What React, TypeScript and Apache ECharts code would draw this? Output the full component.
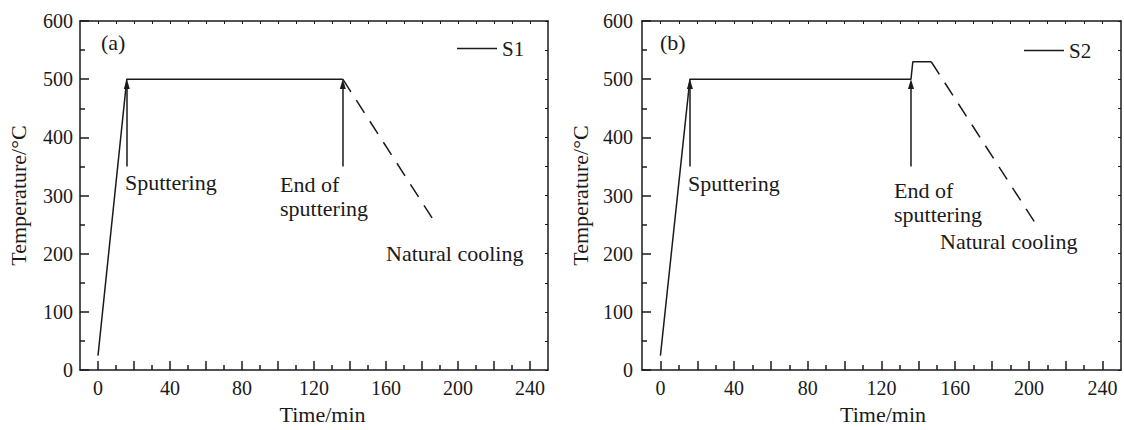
import React, { useEffect, useRef } from "react";
import * as echarts from "echarts";

// ---- data ----
const xLabelValues = [0, 40, 80, 120, 160, 200, 240];
const xMajorTicks = [0, 20, 40, 60, 80, 100, 120, 140, 160, 180, 200, 220, 240];
const xMinorTicks = [10, 30, 50, 70, 90, 110, 130, 150, 170, 190, 210, 230];
const xTopTicks = [0, 10, 20, 30, 40, 50, 60, 70, 80, 90, 100, 110, 120, 130, 140, 150, 160, 170, 180, 190, 200, 210, 220, 230, 240];

const heatS1 = [[0, 25], [16, 500], [136, 500]];
const coolS1 = [[136, 500], [188, 250]];
const arrowsS1 = [[16, 350, 500], [136, 350, 500]];

const heatS2 = [[0, 25], [16, 500], [136, 500], [137, 530], [147, 530]];
const coolS2 = [[147, 530], [204, 250]];
const arrowsS2 = [[16, 350, 500], [136, 350, 500]];

const FONT = "Liberation Serif";
const INK = "#1a1a1a";
const GRID_H = 360;
const ARROW_W = 6;
const ARROW_H = 10;

type Panel = {
  left: number;
  width: number;
  name: string;
  heat: number[][];
  cool: number[][];
  arrows: number[][];
  yLabelMargin: number;
  xNamePad: number;
  legendLeft: number;
  legendTop: number;
};

const panels: Panel[] = [
  { left: 80, width: 468, name: "S1", heat: heatS1, cool: coolS1, arrows: arrowsS1, yLabelMargin: 7, xNamePad: 17, legendLeft: 457, legendTop: 38 },
  { left: 642, width: 479, name: "S2", heat: heatS2, cool: coolS2, arrows: arrowsS2, yLabelMargin: 9, xNamePad: 3, legendLeft: 1024, legendTop: 40 },
];

function buildOption() {
  const grid: any[] = [];
  const xAxis: any[] = [];
  const yAxis: any[] = [];
  const series: any[] = [];
  const legend: any[] = [];
  const tipShift = ARROW_H / 2 / (GRID_H / 600);

  panels.forEach((p, i) => {
    grid.push({ left: p.left, top: 21, width: p.width, height: GRID_H, containLabel: false });
    const baseX = { type: "value", gridIndex: i, min: -10, max: 250, splitLine: { show: false } };
    const lineStyle = { color: INK, width: 1.5 };
    // bottom major with labels
    xAxis.push({
      ...baseX,
      position: "bottom",
      name: "Time/min",
      nameLocation: "middle",
      nameGap: 28,
      nameTextStyle: { fontFamily: FONT, fontSize: 22, color: INK, padding: [0, 0, 0, p.xNamePad] },
      axisLine: { show: true, onZero: false, lineStyle },
      axisTick: { show: true, inside: true, length: 9, lineStyle, customValues: xMajorTicks },
      axisLabel: { show: true, customValues: xLabelValues, margin: 8, fontFamily: FONT, fontSize: 20, color: INK },
    });
    // bottom minor ticks
    xAxis.push({
      ...baseX,
      position: "bottom",
      axisLine: { show: false },
      axisTick: { show: true, inside: true, length: 5, lineStyle, customValues: xMinorTicks },
      axisLabel: { show: false },
    });
    // top border
    xAxis.push({
      ...baseX,
      position: "top",
      axisLine: { show: true, onZero: false, lineStyle },
      axisTick: { show: true, inside: true, length: 3, lineStyle: { color: INK, width: 1 }, customValues: xTopTicks },
      axisLabel: { show: false },
    });
    yAxis.push({
      type: "value",
      gridIndex: i,
      position: "left",
      min: 0,
      max: 600,
      interval: 100,
      name: "Temperature/°C",
      nameLocation: "middle",
      nameGap: 51,
      nameTextStyle: { fontFamily: FONT, fontSize: 22, color: INK },
      splitLine: { show: false },
      axisLine: { show: true, onZero: false, lineStyle },
      axisTick: { show: true, inside: true, length: 9, lineStyle },
      minorTick: { show: true, splitNumber: 2, length: 5, lineStyle },
      axisLabel: { margin: p.yLabelMargin, fontFamily: FONT, fontSize: 20, color: INK },
    });
    yAxis.push({
      type: "value",
      gridIndex: i,
      position: "right",
      min: 0,
      max: 600,
      interval: 50,
      splitLine: { show: false },
      axisLine: { show: true, onZero: false, lineStyle },
      axisTick: { show: true, inside: true, length: 3, lineStyle: { color: INK, width: 1 } },
      axisLabel: { show: false },
    });

    series.push({
      type: "line",
      name: p.name,
      xAxisIndex: i * 3,
      yAxisIndex: i * 2,
      data: p.heat,
      symbol: "none",
      lineStyle: { color: INK, width: 1.5 },
      itemStyle: { color: INK },
      markLine: {
        silent: true,
        animation: false,
        label: { show: false },
        lineStyle: { color: INK, width: 1.5, type: "solid" },
        data: p.arrows.map((a) => [
          { coord: [a[0], a[1]], symbol: "none" },
          { coord: [a[0], a[2] - tipShift], symbol: "triangle", symbolSize: [ARROW_W, ARROW_H] },
        ]),
      },
    });
    series.push({
      type: "line",
      name: p.name + " cooling",
      xAxisIndex: i * 3,
      yAxisIndex: i * 2,
      data: p.cool,
      symbol: "none",
      lineStyle: { color: INK, width: 1.5, type: [15, 10] },
    });
    legend.push({
      show: true,
      orient: "horizontal",
      data: [{ name: p.name, icon: "rect", itemStyle: { color: INK, borderWidth: 0 } }],
      left: p.legendLeft,
      top: p.legendTop,
      padding: 0,
      itemWidth: 40,
      itemHeight: 1.5,
      itemGap: 6,
      textStyle: { fontFamily: FONT, fontSize: 21, color: INK },
      selectedMode: false,
    });
  });

  const txt = (x: number, y: number, text: string) => ({
    type: "text",
    x,
    y,
    style: { text, fontFamily: FONT, fontSize: 22, fill: INK, verticalAlign: "middle", align: "left", lineHeight: 24 },
  });

  const graphic = [
    txt(101, 42, "(a)"),
    txt(125, 182, "Sputtering"),
    txt(280, 196, "End of\nsputtering"),
    txt(386, 253, "Natural cooling"),
    txt(660, 42, "(b)"),
    txt(688, 183, "Sputtering"),
    txt(894, 202, "End of\nsputtering"),
    txt(940, 241, "Natural cooling"),
  ];

  return { animation: false, backgroundColor: "#fff", grid, xAxis, yAxis, series, legend, graphic };
}

export default function App() {
  const ref = useRef<HTMLDivElement>(null);
  useEffect(() => {
    document.body.style.margin = "0";
    if (!ref.current) return;
    const chart = echarts.init(ref.current, null, { renderer: "svg" });
    chart.setOption(buildOption() as any);
    return () => chart.dispose();
  }, []);
  return <div ref={ref} style={{ width: 1124, height: 430 }} />;
}
